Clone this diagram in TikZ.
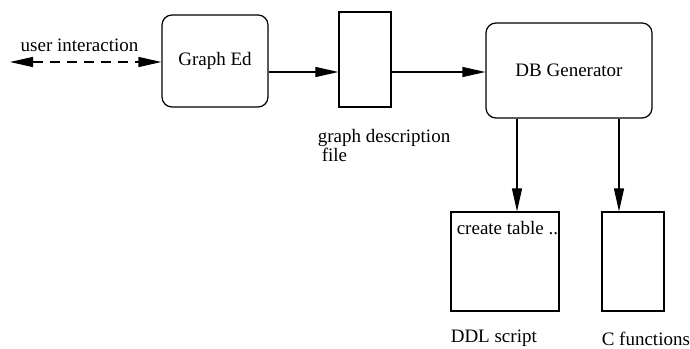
\documentclass[tikz,border=0pt]{standalone}
\usepackage{fontspec}
\setmainfont{Liberation Serif}
\usetikzlibrary{arrows.meta,positioning}

\begin{document}
\begin{tikzpicture}[x=0.5pt,y=-0.5pt,% 1 unit = 1 pixel of the layout
	every node/.style={
		align=center,	% "\\" line breaks
		inner sep=0pt,
		font=\fontsize{9.5}{9.5}\selectfont
	},
	box/.style={rectangle,draw=black,line width=0.6pt},
	rbox/.style={box,rounded corners=5pt},
	every edge/.style={draw,line width=0.6pt},
	tip/.style={-{Triangle[length=11.5pt,width=5pt]}}
	]
	\useasboundingbox (0,0) rectangle (690,348);
	\node[rbox,minimum width=53pt,minimum height=46pt](R1) at (215,61){Graph Ed};
	\node[box,minimum width=26pt,minimum height=47.5pt](R2) at (365,59.5){};
	\node[rbox,minimum width=83pt,minimum height=47.5pt](R3) at (569,70.5){DB Generator};
	\node[box,minimum width=54pt,minimum height=49.5pt](R4) at (505,261.5){};
	\node[box,minimum width=31pt,minimum height=49.5pt](R5) at (633,261.5){};
	% texts
	\node(L1) at (79.5,45){user interaction};
	\node[anchor=west,align=left](L2) at ([xshift=-10.5pt,yshift=-18.75pt]R2.south west){graph description\\\hspace*{2pt}file};
	\node[anchor=west](L3) at ([xshift=3pt,yshift=-8.5pt]R4.north west){create table ..};
	\node[anchor=west](L4) at ([yshift=-13.5pt]R4.south west){DDL script};
	\node[anchor=west](L5) at ([yshift=-13.5pt]R5.south west){C functions};
	% connectors
	\coordinate (U) at (10,62);
	\coordinate (Y1) at (0,72);
	\coordinate (D1) at (517,0);
	\coordinate (D2) at (619,0);
	\path[tip]
	(R1.east |- Y1) edge [] (R2.west |- Y1)
	(R2.east |- Y1) edge [] (R3.west |- Y1)
	(R3.south -| D1) edge [] (R4.north -| D1)
	(R3.south -| D2) edge [] (R5.north -| D2)
	;
	\path[{Triangle[length=11.5pt,width=5pt]}-{Triangle[length=11.5pt,width=5pt]}]
	(U) edge [dash pattern=on 5pt off 3.5pt] (R1.west |- U);
\end{tikzpicture}
\end{document}
